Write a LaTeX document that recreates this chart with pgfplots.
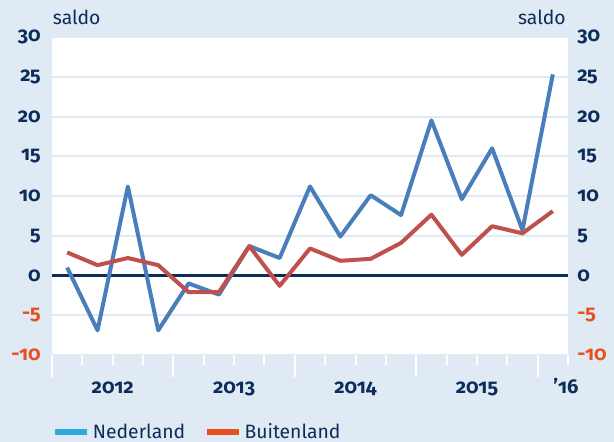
\documentclass[border=0pt]{standalone}
\usepackage{pgfplots}
\pgfplotsset{compat=1.18}
\usepackage{fontspec}
\setmainfont{Fira Sans}[Numbers=OldStyle]
\definecolor{bgc}{HTML}{DFEAF4}
\definecolor{navy}{HTML}{0C2D5A}
\definecolor{lblue}{HTML}{4A7EBB}
\definecolor{lred}{HTML}{C0504D}
\definecolor{orng}{HTML}{E8501E}
\definecolor{cyanb}{HTML}{2EA9DF}
\newcommand{\negl}[1]{\textcolor{orng}{#1}}
\begin{document}
\begin{tikzpicture}
\fill[bgc] (0,0) rectangle (460.5pt,331.5pt);
\useasboundingbox (0,0) rectangle (460.5pt,331.5pt);
\pgfplotsset{
  common/.style={
    scale only axis, width=387pt, height=238.5pt,
    at={(39pt,65.25pt)}, anchor=south west,
    xmin=0, xmax=17, ymin=-10, ymax=30,
    ytick={-10,-5,0,5,10,15,20,25,30},
    yticklabels={\negl{-10},\negl{-5},0,5,10,15,20,25,30},
    ytick style={draw=none},
    yticklabel style={font=\fontsize{15}{16}\selectfont\bfseries, text=navy, inner sep=0pt},
    /pgf/number format/assume math mode=true,
  }
}
\begin{axis}[common,
  axis background/.style={fill=white},
  separate axis lines,
  axis x line*=bottom, axis y line*=left,
  axis line style={draw=none},
  ymajorgrids, major grid style={bgc, line width=1.5pt},
  xtick={0,4,8,12,16}, xticklabels={},
  minor xtick={1,2,3,5,6,7,9,10,11,13,14,15,17},
  tick align=outside,
  xtick style={white, line width=1.5pt},
  major tick length=16.5pt, minor tick length=7.5pt,
  extra x ticks={2,6,10,14,16.93},
  extra x tick labels={2012,2013,2014,2015,’16},
  extra x tick style={major tick length=0pt, xtick style={draw=none},
    tick label style={font=\fontsize{15}{16}\selectfont\bfseries, text=navy, anchor=base, yshift=-29pt}},
  extra y ticks={0}, extra y tick labels={},
  extra y tick style={ymajorgrids, major grid style={navy, line width=2pt}},
  yticklabel style={anchor=east, xshift=8.25pt},
  legend columns=2,
  legend style={draw=none, fill=none, at={(0,0)}, anchor=west, xshift=0pt, yshift=-57.75pt,
    font=\fontsize{14.5}{16}\selectfont, text=navy, inner sep=0pt,
    /tikz/every even column/.append style={column sep=12pt}},
  legend image code/.code={\draw[#1] (0pt,0pt) -- (24pt,0pt);},
]
\addlegendimage{cyanb, line width=4.5pt}
\addlegendentry{Nederland}
\addlegendimage{orng, line width=4.5pt}
\addlegendentry{Buitenland}
\addplot[forget plot, lblue, line width=3pt, line join=round] coordinates {
(0.5,1.0)(1.5,-6.9)(2.5,11.2)(3.5,-6.9)(4.5,-1.0)(5.5,-2.4)(6.5,3.7)(7.5,2.2)
(8.5,11.2)(9.5,4.9)(10.5,10.1)(11.5,7.6)(12.5,19.5)(13.5,9.6)(14.5,16.0)(15.5,5.7)(16.5,25.3)};
\addplot[forget plot, lred, line width=3pt, line join=round] coordinates {
(0.5,2.9)(1.5,1.3)(2.5,2.2)(3.5,1.3)(4.5,-2.1)(5.5,-2.1)(6.5,3.7)(7.5,-1.3)
(8.5,3.4)(9.5,1.85)(10.5,2.1)(11.5,4.1)(12.5,7.65)(13.5,2.6)(14.5,6.2)(15.5,5.3)(16.5,8.1)};
\end{axis}
\begin{axis}[common,
  separate axis lines,
  axis y line*=right, axis x line=none,
  axis line style={draw=none},
  yticklabel style={anchor=west, xshift=6.75pt},
]
\end{axis}
\node[anchor=base west, text=navy, font=\fontsize{14.5}{16}\selectfont, inner sep=0pt] at (39.5pt,312.75pt) {saldo};
\node[anchor=base east, text=navy, font=\fontsize{14.5}{16}\selectfont, inner sep=0pt] at (424.5pt,312.75pt) {saldo};
\end{tikzpicture}
\end{document}
